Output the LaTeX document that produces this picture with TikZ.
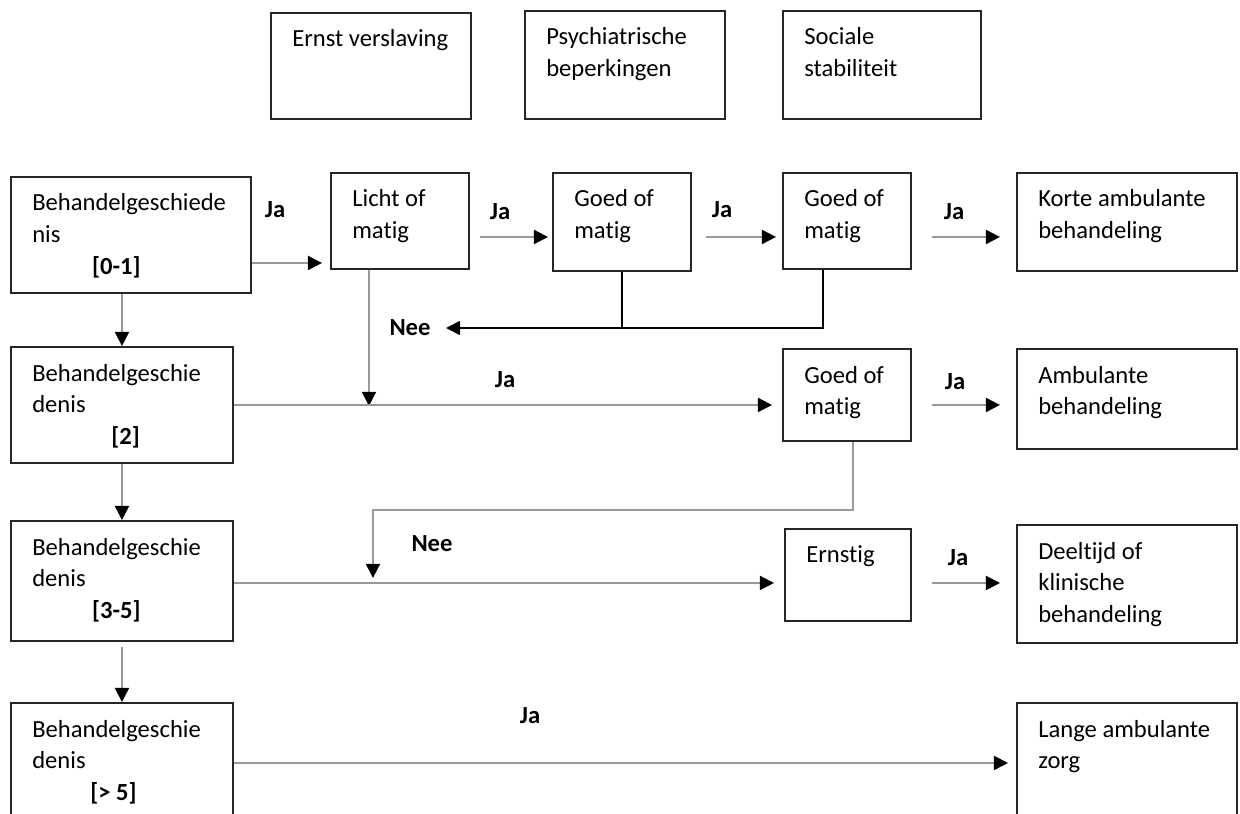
\documentclass[tikz,border=0pt]{standalone}
\usepackage{fontspec}
\setmainfont[Ligatures=NoCommon]{Carlito}
\usetikzlibrary{arrows.meta,calc}
\newcommand{\boxfont}{\fontsize{14}{18}\selectfont}

\begin{document}
\begin{tikzpicture}[x=0.02cm,y=-0.02cm]
\tikzset{
  box/.style={draw=black!85, line width=1.1pt, anchor=north west, inner sep=0pt},
  sz/.style 2 args={minimum width=#1*0.02cm, minimum height=#2*0.02cm},
  txt/.style={anchor=north west, inner sep=0pt, xshift=12.5pt, yshift=-10pt, align=left, font=\boxfont},
  lbl/.style={font=\boxfont\bfseries},
  line/.style={draw=black!40, line width=1pt},
  arr/.style={line, -{Triangle[length=8pt,width=8pt,color=black]}},
}
\useasboundingbox (0,0) rectangle (1240,814);

    % criteria
    \node[box, sz={200}{106}, label={[txt]north west:{Ernst verslaving}}] (ernst) at (270,12) {};
    \node[box, sz={200}{108}, label={[txt]north west:{Psychiatrische\\beperkingen}}] (psych) at (524,10) {};
    \node[box, sz={198}{108}, label={[txt]north west:{Sociale\\stabiliteit}}] (sociaal) at (782,10) {};

    % behandelgeschiedenis
    \node[box, sz={240}{116}, label={[txt]north west:{Behandelgeschiede\\nis\\\hspace*{34pt}\textbf{[0-1]}}}] (b01) at (10,176) {};
    \node[box, sz={222}{116}, label={[txt]north west:{Behandelgeschie\\denis\\\hspace*{45pt}\textbf{[2]}}}] (b2) at (10,346) {};
    \node[box, sz={222}{120}, label={[txt]north west:{Behandelgeschie\\denis\\\hspace*{34pt}\textbf{[3-5]}}}] (b35) at (10,520) {};
    \node[box, sz={222}{120}, label={[txt]north west:{Behandelgeschie\\denis\\\hspace*{33pt}\textbf{[> 5]}}}] (b5) at (10,702) {};

    % beslissingen
    \node[box, sz={138}{96}, label={[txt]north west:{Licht of\\matig}}] (licht) at (330,172) {};
    \node[box, sz={138}{98}, label={[txt]north west:{Goed of\\matig}}] (goedA) at (552,172) {};
    \node[box, sz={128}{96}, label={[txt]north west:{Goed of\\matig}}] (goedB) at (782,172) {};
    \node[box, sz={128}{92}, label={[txt]north west:{Goed of\\matig}}] (goedC) at (782,348) {};
    \node[box, sz={126}{92}, label={[txt]north west:{Ernstig}}] (ernstig) at (784,528) {};

    % behandeling
    \node[box, sz={220}{98}, label={[txt]north west:{Korte ambulante\\behandeling}}] (korte) at (1016,172) {};
    \node[box, sz={220}{100}, label={[txt]north west:{Ambulante\\behandeling}}] (amb) at (1016,348) {};
    \node[box, sz={220}{118}, label={[txt]north west:{Deeltijd of\\klinische\\behandeling}}] (deeltijd) at (1016,524) {};
    \node[box, sz={220}{120}, label={[txt]north west:{Lange ambulante\\zorg}}] (lange) at (1016,702) {};

    % labels
    \node[lbl] (ja1) at (275,210) {Ja};
    \node[lbl] (ja2) at (500,212) {Ja};
    \node[lbl] (ja3) at (722,210) {Ja};
    \node[lbl] (ja4) at (954,212) {Ja};
    \node[lbl] (nee1) at (410,328) {Nee};
    \node[lbl] (ja5) at (505,380) {Ja};
    \node[lbl] (ja6) at (955,382) {Ja};
    \node[lbl] (nee2) at (432,544) {Nee};
    \node[lbl] (ja7) at (958,558) {Ja};
    \node[lbl] (ja8) at (530,716) {Ja};
    \coordinate (neetip) at (446,328);

    % verticals
    \draw[arr] (b01.south -| b2.north) -- (b2.north);
    \draw[arr] (b2.south) -- (b35.north);
    \draw[arr] ($(b35.south)+(0,5)$) -- (b5.north);

    % row 1
    \draw[arr] ($(b01.east)+(0,28)$) -- ($(licht.west)+(-8,42)$);
    \draw[arr] ($(licht.east)+(10,16)$) -- ($(goedA.west)+(-4,15)$);
    \draw[arr] ($(goedA.east)+(14,15)$) -- ($(goedB.west)+(-6,16)$);
    \draw[arr] ($(goedB.east)+(20,16)$) -- ($(korte.west)+(-16,15)$);
    \draw[arr, draw=black] ($(goedB.south)+(-24,0)$) |- (neetip);
    \draw[line, draw=black] (goedA.south) -- (goedA.south |- neetip);
    \draw[arr] ($(licht.south)+(-31,0)$) -- ++(0,136);

    % row 2
    \draw[arr] (b2.east) -- ($(goedC.west)+(-10,10)$);
    \draw[arr] ($(goedC.east)+(20,10)$) -- ($(amb.west)+(-16,6)$);
    \draw[arr] ($(goedC.south)+(6,0)$) |- ++(-480,68) -- ++(0,68);

    % row 3 and 4
    \draw[arr] ($(b35.east)+(0,2)$) -- ($(ernstig.west)+(-10,8)$);
    \draw[arr] ($(ernstig.east)+(20,8)$) -- ($(deeltijd.west)+(-16,-1)$);
    \draw[arr] (b5.east) -- ($(lange.west)+(-8,0)$);
\end{tikzpicture}
\end{document}
